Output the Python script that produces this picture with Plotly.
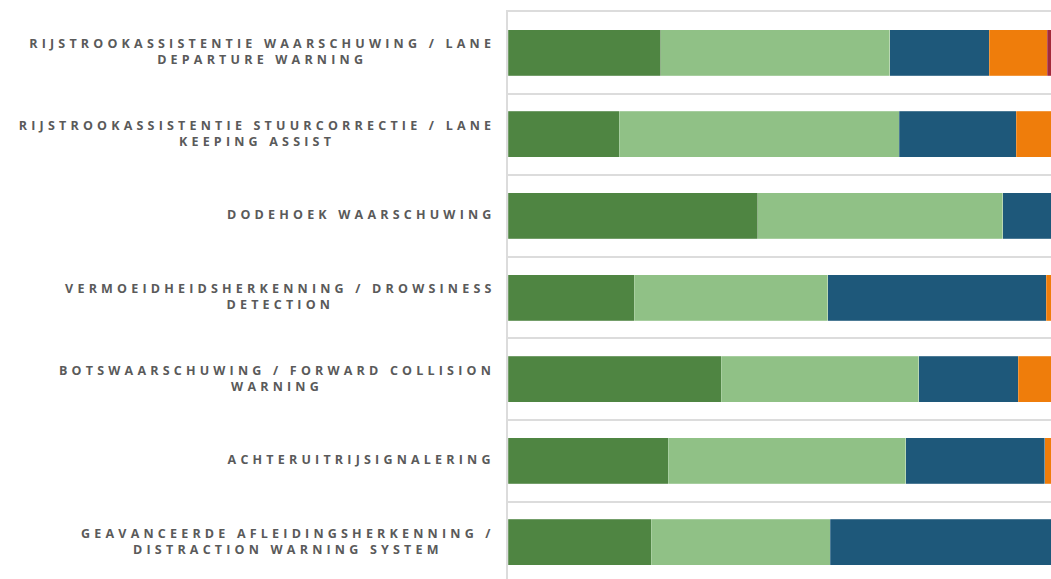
import plotly.graph_objects as go

categories = [
    "RIJSTROOKASSISTENTIE WAARSCHUWING / LANE<br>DEPARTURE WARNING",
    "RIJSTROOKASSISTENTIE STUURCORRECTIE / LANE<br>KEEPING ASSIST",
    "DODEHOEK WAARSCHUWING",
    "VERMOEIDHEIDSHERKENNING / DROWSINESS<br>DETECTION",
    "BOTSWAARSCHUWING / FORWARD COLLISION<br>WARNING",
    "ACHTERUITRIJSIGNALERING",
    "GEAVANCEERDE AFLEIDINGSHERKENNING /<br>DISTRACTION WARNING SYSTEM",
]

series_names = ["Zeer positief", "Positief", "Neutraal", "Negatief", "Zeer negatief"]
s1 = [27.9, 20.3, 45.6, 23.0, 38.9, 29.2, 26.1]
s2 = [41.8, 51.1, 44.7, 35.4, 36.1, 43.4, 32.7]
s3 = [18.1, 21.4, 9.7, 39.8, 18.1, 25.4, 41.2]
s4 = [10.6, 7.2, 0.0, 1.8, 6.9, 2.0, 0.0]
s5 = [1.6, 0.0, 0.0, 0.0, 0.0, 0.0, 0.0]
colors = ["#4F8542", "#90C186", "#1E587A", "#EF7D0B", "#A3293A"]

x_visible_max = 99.1

fig = go.Figure()
for name, vals, col in zip(series_names, [s1, s2, s3, s4, s5], colors):
    fig.add_trace(go.Bar(
        y=list(range(len(categories))), x=vals, name=name, orientation="h",
        marker=dict(color=col, line=dict(color="rgba(255,255,255,0.35)", width=0.6)),
        hovertemplate="%{x:.1f}%<extra>" + name + "</extra>",
    ))

for i, c in enumerate(categories):
    fig.add_annotation(
        x=0, xref="paper", y=i, yref="y", text=c, showarrow=False,
        xanchor="right", yanchor="middle", align="center", xshift=-15, yshift=1,
        font=dict(family="Open Sans", size=12.5, color="#5A5A5A", weight="bold"),
    )

fig.update_layout(
    barmode="stack",
    bargap=0.436,
    width=1051, height=579,
    margin=dict(l=508, r=0, t=12, b=0, pad=0),
    paper_bgcolor="white", plot_bgcolor="white",
    showlegend=False,
    xaxis=dict(range=[0, x_visible_max], showticklabels=False, showgrid=False,
               zeroline=False, side="top", showline=True, linecolor="#DCDCDC",
               linewidth=2, ticks="", fixedrange=True),
    yaxis=dict(type="linear", range=[6.45, -0.5], showticklabels=False,
               tickmode="array", tickvals=[i - 0.5 for i in range(len(categories) + 1)],
               showgrid=True, gridcolor="#DCDCDC", gridwidth=2,
               zeroline=False, showline=True, linecolor="#DCDCDC", linewidth=2,
               fixedrange=True),
)

post = """
document.body.style.margin = '0';
document.body.style.padding = '0';
var gd = document.getElementById('{plot_id}');
gd.querySelectorAll('.annotation-text').forEach(function(t){
  var b0 = t.getBBox();
  t.style.letterSpacing = '4.2px';
  var b1 = t.getBBox();
  var dx = (b0.x + b0.width) - (b1.x + b1.width) + 4.2;
  var tr = t.getAttribute('transform') || '';
  t.setAttribute('transform', tr + ' translate(' + dx + ',0)');
});
"""

fig.write_html("out.html", post_script=post, config={"displayModeBar": False})
